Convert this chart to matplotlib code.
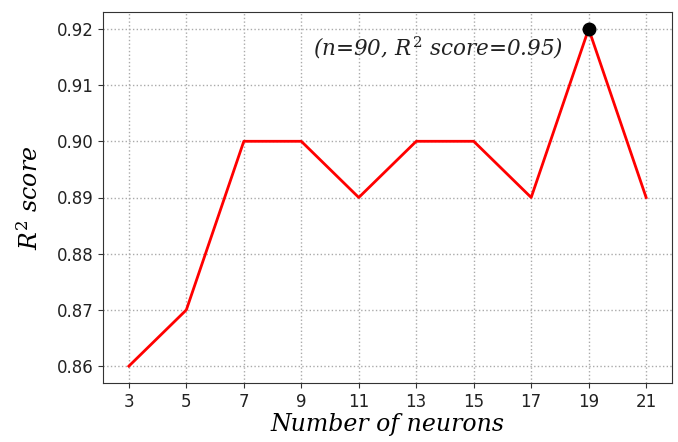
import matplotlib
matplotlib.use("Agg")
import matplotlib.pyplot as plt

plt.rcParams['mathtext.fontset'] = 'dejavuserif'

neurons = [3, 5, 7, 9, 11, 13, 15, 17, 19, 21]
r2 = [0.86, 0.87, 0.90, 0.90, 0.89, 0.90, 0.90, 0.89, 0.92, 0.89]
best_n = 19
best_r2 = 0.92
yticks = [0.86, 0.87, 0.88, 0.89, 0.90, 0.91, 0.92]

fig = plt.figure(figsize=(6.78, 4.42), dpi=100)
ax = fig.add_axes([103/678, 1-383/442, (672-103)/678, (383-12)/442])
ax.plot(neurons, r2, color='red', lw=2)
ax.plot(best_n, best_r2, 'o', color='black', ms=9)
ax.text(9.4, 0.9166, "(n=90, $R^2$ score=0.95)", fontsize=15.5, style='italic',
        family='DejaVu Serif', va='center', color='#222222')
ax.set_xticks(neurons)
ax.set_yticks(yticks)
ax.set_yticklabels(["%.2f" % v for v in yticks])
ax.grid(True, linestyle=':', color='#aaaaaa', lw=1)
ax.tick_params(labelsize=12, colors='#333333', labelcolor='#222222')
for s in ax.spines.values():
    s.set_color('#333333')
ax.set_xlabel("Number of neurons", fontsize=17, style='italic', family='DejaVu Serif', labelpad=2)
ax.set_ylabel("$R^2$ score", fontsize=17, style='italic', family='DejaVu Serif', labelpad=10)
fig.savefig("out.png", dpi=100)
